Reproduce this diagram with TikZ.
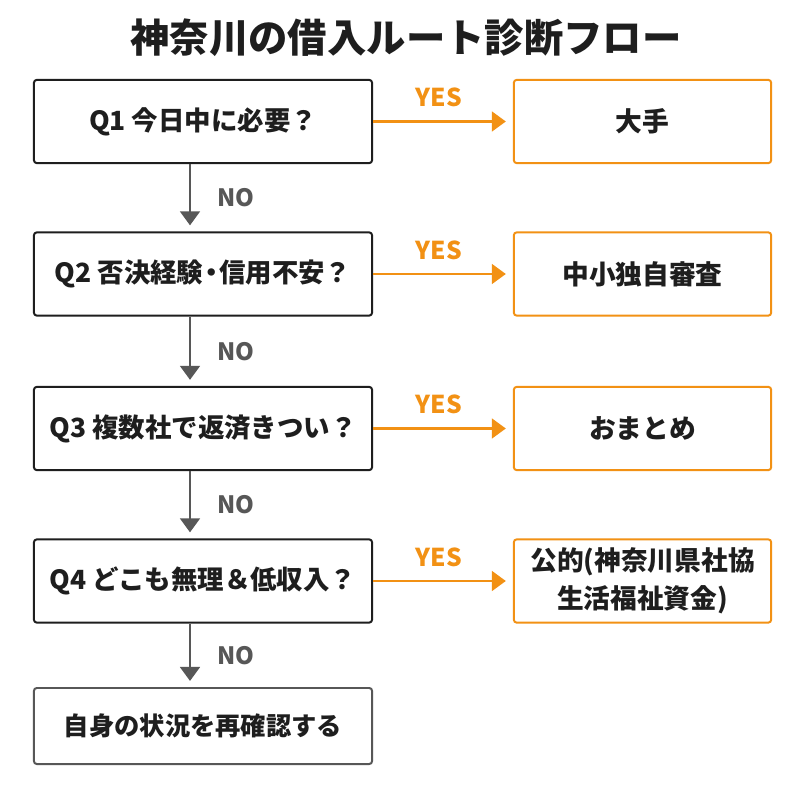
\documentclass[tikz,border=0pt]{standalone}
\usepackage{fontspec}
\setmainfont{Noto Sans CJK JP}
\usepackage{xcolor}
\usetikzlibrary{arrows.meta}
\definecolor{orng}{HTML}{F29114}
\definecolor{gry}{HTML}{575757}
\definecolor{ink}{HTML}{1E1E1E}
\newcommand{\ndot}{\hspace{-0.2em}・\hspace{-0.2em}}

\begin{document}
\begin{tikzpicture}[x=0.025cm,y=-0.025cm,
  qbox/.style={draw=ink,line width=1.4pt,rounded corners=2pt,text=ink,
    minimum width=8.45cm,minimum height=2.08cm,
    font=\bfseries\fontsize{18.8}{23}\selectfont},
  abox/.style={draw=orng,line width=1.4pt,rounded corners=2pt,text=ink,
    minimum width=6.43cm,minimum height=2.08cm,align=center,
    font=\bfseries\fontsize{19}{27}\selectfont},
  noarr/.style={gry,line width=2.1pt,-{Triangle[length=10pt,width=14pt]},
    shorten >=4.3pt},
  yesarr/.style={orng,line width=2.1pt,-{Triangle[length=10pt,width=14pt]},
    shorten >=5pt},
  nolab/.style={text=gry,font=\bfseries\fontsize{17}{20}\selectfont,
    anchor=west,xshift=15pt},
  yeslab/.style={text=orng,font=\bfseries\fontsize{17.5}{20}\selectfont,
    anchor=south,yshift=6pt,xshift=-3pt}]
\useasboundingbox[fill=white] (0,0) rectangle (800,800);
% Title
\node[text=ink,font=\bfseries\fontsize{28}{33}\selectfont] (title) at (406,38)
  {神奈川の借入ルート診断フロー};
% Questions
\node[qbox] (q1) at (203,121.5) {Q1 今日中に必要？};
\node[qbox] (q2) at (203,274) {Q2 否決経験\ndot 信用不安？};
\node[qbox] (q3) at (203,428.5) {Q3 複数社で返済きつい？};
\node[qbox] (q4) at (203,581) {Q4 どこも無理＆低収入？};
\node[qbox,draw=gry,minimum height=1.9cm,font=\bfseries\fontsize{18}{22}\selectfont]
  (q5) at (203,726) {自身の状況を再確認する};
% Answers
\node[abox] (a1) at (642.5,121.5) {大手};
\node[abox] (a2) at (642.5,274) {中小独自審査};
\node[abox] (a3) at (642.5,428.5) {おまとめ};
\node[abox] (a4) at (642.5,581) {公的(神奈川県社協\\生活福祉資金)};
% NO arrows
\coordinate (ax) at (190,0);
\draw[noarr] (q1.south -| ax) -- (q2.north -| ax) node[nolab,midway]{NO};
\draw[noarr] (q2.south -| ax) -- (q3.north -| ax) node[nolab,midway]{NO};
\draw[noarr] (q3.south -| ax) -- (q4.north -| ax) node[nolab,midway]{NO};
\draw[noarr] (q4.south -| ax) -- (q5.north -| ax) node[nolab,midway]{NO};
% YES arrows
\draw[yesarr] (q1) -- (a1) node[yeslab,midway]{YES};
\draw[yesarr] (q2) -- (a2) node[yeslab,midway]{YES};
\draw[yesarr] (q3) -- (a3) node[yeslab,midway]{YES};
\draw[yesarr] (q4) -- (a4) node[yeslab,midway]{YES};
\end{tikzpicture}
\end{document}
